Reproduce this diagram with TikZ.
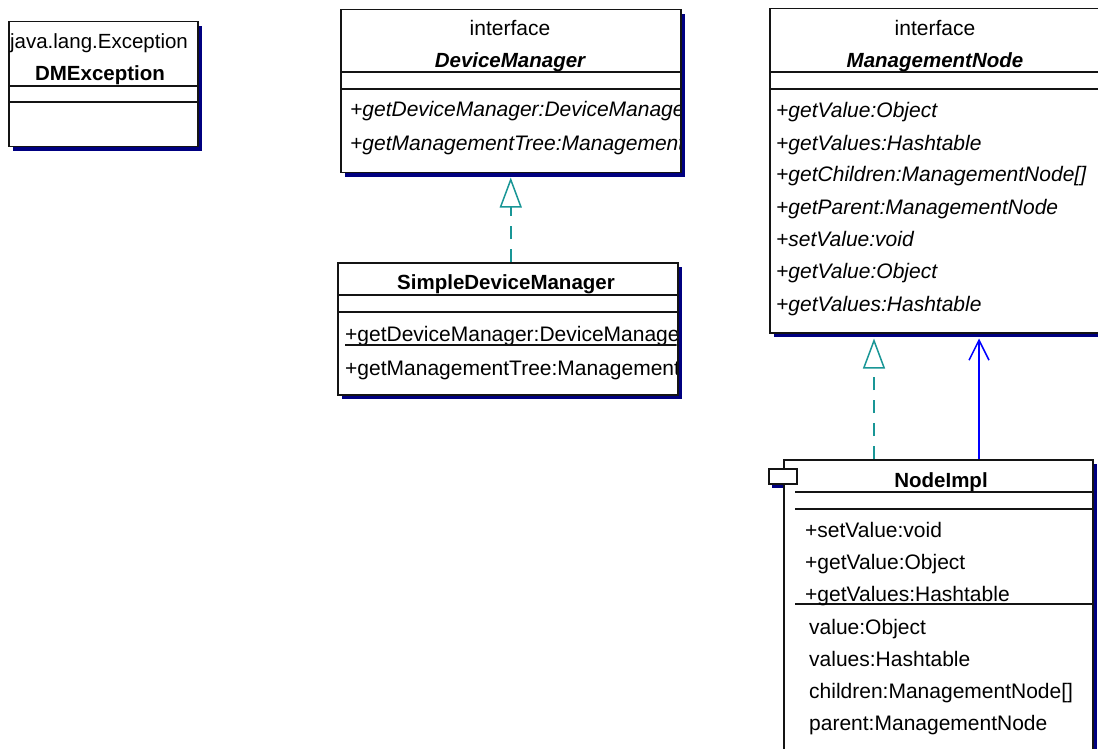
\documentclass[tikz,border=0pt]{standalone}
\usepackage{fontspec}
\setmainfont{Liberation Sans}
\usetikzlibrary{arrows.meta,shadows,calc}
\definecolor{navyshade}{RGB}{0,0,128}
\definecolor{realc}{RGB}{25,150,150}
\definecolor{assocc}{RGB}{0,0,255}
\definecolor{edgec}{RGB}{20,20,20}
\begin{document}
\begin{tikzpicture}[x=1pt,y=-1pt,
  umlbox/.style={draw=edgec,line width=1.5pt,fill=white,rectangle,anchor=north west,inner sep=0pt,
    drop shadow={shadow xshift=4.5pt,shadow yshift=-4.5pt,fill=navyshade,opacity=1}},
  plainbox/.style={draw=edgec,line width=1.5pt,fill=white,rectangle,anchor=north west,inner sep=0pt},
  divider/.style={draw=edgec,line width=1.5pt},
  txt/.style={inner sep=0pt,font=\fontsize{21}{24}\selectfont},
  ittxt/.style={txt,font=\fontsize{21}{24}\selectfont\itshape},
  bftxt/.style={txt,font=\fontsize{20.5}{24}\selectfont\bfseries},
  bittxt/.style={txt,font=\fontsize{20.5}{24}\selectfont\bfseries\itshape},
  ctr/.style={anchor=base},
  lft/.style={anchor=base west},
  realize/.style={draw=realc,line width=1.5pt,dash pattern=on 13pt off 10pt,
    -{Triangle[open,length=30pt,width=22pt,fill=white]}},
  assoc/.style={draw=assocc,line width=1.5pt,-{Straight Barb[length=20pt,width=20pt]}}
]
\clip (0,0) rectangle (1098,749);
\fill[white] (0,0) rectangle (1098,749);

% ---------- DMException ----------
\node[umlbox,minimum width=189pt,minimum height=125pt] (dme) at (8,21) {};
\draw[divider] (8,86) -- (197,86);
\draw[divider] (8,102) -- (197,102);
\begin{scope}
\clip (dme.north west) rectangle (dme.south east);
\node[txt,ctr,font=\fontsize{20.5}{24}\selectfont] (dmeS) at (99,49) {java.lang.Exception};
\end{scope}
\node[bftxt,ctr] (dmeT) at (100,81) {DMException};

% ---------- DeviceManager ----------
\node[umlbox,minimum width=340pt,minimum height=163pt] (dm) at (340,9) {};
\draw[divider] (340,72) -- (680,72);
\draw[divider] (340,89) -- (680,89);
\node[txt,ctr] (dmS) at (510,36) {interface};
\node[bittxt,ctr] (dmT) at (510,68) {DeviceManager};
\begin{scope}
\clip (dm.north west) rectangle ([xshift=-2pt]dm.south east);
\node[ittxt,lft] (dmM1) at (350,117) {+getDeviceManager:DeviceManager};
\node[ittxt,lft] (dmM2) at (350,150) {+getManagementTree:ManagementNode};
\end{scope}

% ---------- SimpleDeviceManager ----------
\node[umlbox,minimum width=340pt,minimum height=132pt] (sdm) at (337,262) {};
\draw[divider] (337,295) -- (677,295);
\draw[divider] (337,312) -- (677,312);
\node[bftxt,ctr] (sdmT) at (506,289) {SimpleDeviceManager};
\begin{scope}
\clip (sdm.north west) rectangle ([xshift=-2pt]sdm.south east);
\node[txt,lft] (sdmM1) at (345,341) {+getDeviceManager:DeviceManager};
\draw[edgec,line width=1.3pt] ([yshift=-4pt]sdmM1.base west) -- ([yshift=-4pt]sdmM1.base east);
\node[txt,lft] (sdmM2) at (345,375) {+getManagementTree:ManagementNode};
\end{scope}

% ---------- ManagementNode ----------
\node[umlbox,minimum width=332pt,minimum height=324pt] (mn) at (769,8) {};
\draw[divider] (769,72) -- (1101,72);
\draw[divider] (769,89) -- (1101,89);
\node[txt,ctr] (mnS) at (935,36) {interface};
\node[bittxt,ctr] (mnT) at (935,68) {ManagementNode};
\node[ittxt,lft] (mnM1) at (776,118) {+getValue:Object};
\node[ittxt,lft] (mnM2) at (776,150) {+getValues:Hashtable};
\node[ittxt,lft] (mnM3) at (776,182) {+getChildren:ManagementNode[]};
\node[ittxt,lft] (mnM4) at (776,214) {+getParent:ManagementNode};
\node[ittxt,lft] (mnM5) at (776,246) {+setValue:void};
\node[ittxt,lft] (mnM6) at (776,278) {+getValue:Object};
\node[ittxt,lft] (mnM7) at (776,311) {+getValues:Hashtable};

% ---------- NodeImpl ----------
\node[umlbox,minimum width=309pt,minimum height=320pt] (ni) at (783,459) {};
\draw[divider] (795,492) -- (1092,492);
\draw[divider] (795,509) -- (1092,509);
\draw[divider] (795,604) -- (1092,604);
\fill[navyshade] (772,483) rectangle (783,487.5);
\node[plainbox,minimum width=28pt,minimum height=15pt] (tab) at (768,468) {};
\node[bftxt,ctr] (niT) at (941,487) {NodeImpl};
\node[txt,lft] (niM1) at (805,537) {+setValue:void};
\node[txt,lft] (niM2) at (805,569) {+getValue:Object};
\node[txt,lft] (niM3) at (805,601) {+getValues:Hashtable};
\node[txt,lft] (niA1) at (809,634) {value:Object};
\node[txt,lft] (niA2) at (809,666) {values:Hashtable};
\node[txt,lft] (niA3) at (809,698) {children:ManagementNode[]};
\node[txt,lft] (niA4) at (809,730) {parent:ManagementNode};

% ---------- connectors ----------
\draw[realize] (dm.south |- sdm.north) -- ($(dm.south)+(0,4)$);
\draw[realize] ($(ni.north west)+(91,0)$) -- ($(ni.north west |- mn.south)+(91,5)$);
\draw[assoc] ($(ni.north west)+(196,0)$) -- ($(ni.north west |- mn.south)+(196,5)$);
\end{tikzpicture}
\end{document}
